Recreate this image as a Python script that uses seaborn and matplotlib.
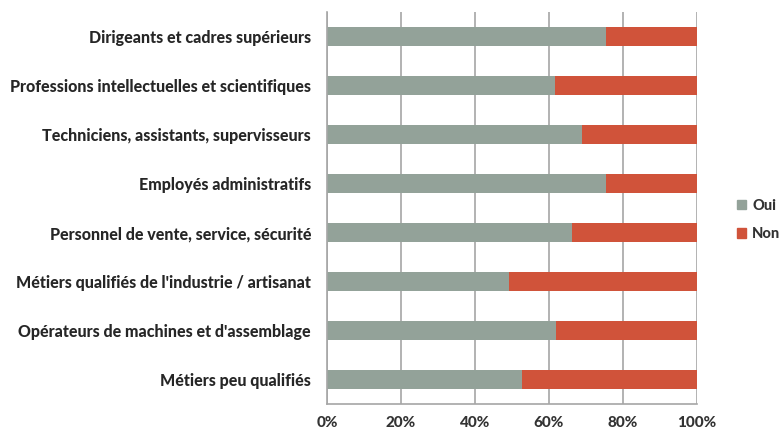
import matplotlib
matplotlib.use("Agg")
import matplotlib.pyplot as plt
import seaborn as sns
import pandas as pd
from matplotlib.patches import Patch

categories = [
    "Dirigeants et cadres supérieurs",
    "Professions intellectuelles et scientifiques",
    "Techniciens, assistants, supervisseurs",
    "Employés administratifs",
    "Personnel de vente, service, sécurité",
    "Métiers qualifiés de l'industrie / artisanat",
    "Opérateurs de machines et d'assemblage",
    "Métiers peu qualifiés",
]
oui = [75.5, 61.6, 69.0, 75.5, 66.2, 49.2, 62.0, 52.6]
non = [100 - v for v in oui]
series_names = ["Oui", "Non"]
xticks = [0, 20, 40, 60, 80, 100]
xticklabels = ["0%", "20%", "40%", "60%", "80%", "100%"]

sns.set_theme(style="white")
plt.rcParams['font.family'] = ['Lato', 'DejaVu Sans']

c_oui = "#93A299"
c_non = "#D0533A"

df = pd.DataFrame({"cat": categories, "oui": oui, "non": non})
df["total"] = df["oui"] + df["non"]

fig = plt.figure(figsize=(7.81, 4.29), dpi=100)
ax = fig.add_axes([327/781, 1 - 404/429, 370/781, 392/429])

sns.barplot(data=df, y="cat", x="total", color=c_non, orient="h", width=0.39,
            ax=ax, saturation=1, edgecolor="none")
sns.barplot(data=df, y="cat", x="oui", color=c_oui, orient="h", width=0.39,
            ax=ax, saturation=1, edgecolor="none")

ax.set_xlim(0, 100)
ax.set_ylim(7.5, -0.5)
ax.set_xticks(xticks)
ax.set_xticklabels(xticklabels, fontsize=11, fontweight="black", color="#333333")
ax.set_yticks(range(len(categories)))
ax.set_yticklabels(categories, fontsize=11.5, fontweight="black", color="#262626")
ax.set_xlabel("")
ax.set_ylabel("")
ax.xaxis.grid(True, color="#A6A6A6", linewidth=1.2)
ax.set_axisbelow(True)
for s in ["top", "right"]:
    ax.spines[s].set_visible(False)
for s in ["left", "bottom"]:
    ax.spines[s].set_color("#A6A6A6")
    ax.spines[s].set_linewidth(1.2)
ax.tick_params(axis="x", direction="out", length=3, color="#A6A6A6", width=1.2, pad=5.5)
ax.tick_params(axis="y", length=0, pad=11.5)

handles = [Patch(color=c_oui, label=series_names[0]), Patch(color=c_non, label=series_names[1])]
fig.legend(handles=handles, loc="center left", bbox_to_anchor=(737/781, 1 - 220/429),
           frameon=False, prop={"weight": "black", "size": 10.5}, handlelength=0.65,
           handleheight=0.65, handletextpad=0.4, labelspacing=1.0, labelcolor="#333333",
           borderpad=0, borderaxespad=0)

fig.savefig("out.png", dpi=100)
